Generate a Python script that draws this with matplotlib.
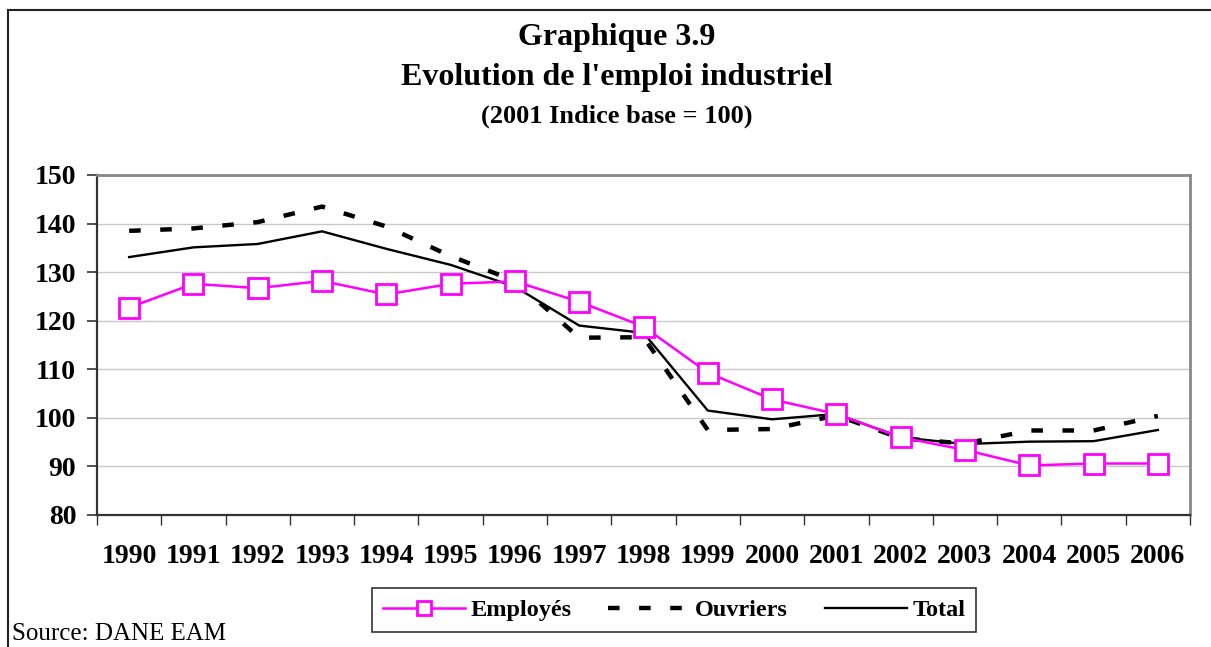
import matplotlib
matplotlib.use("Agg")
import matplotlib.pyplot as plt
from matplotlib.lines import Line2D

years = ["1990", "1991", "1992", "1993", "1994", "1995", "1996", "1997", "1998",
         "1999", "2000", "2001", "2002", "2003", "2004", "2005", "2006"]
employes = [122.7, 127.6, 126.7, 128.2, 125.4, 127.6, 128.1, 123.9, 118.8,
            109.3, 103.8, 100.8, 96.0, 93.4, 90.2, 90.6, 90.6]
ouvriers = [138.5, 139.0, 140.3, 143.5, 139.4, 133.3, 128.2, 116.5, 116.6,
            97.5, 97.7, 100.5, 95.8, 94.7, 97.4, 97.4, 100.4]
total = [133.1, 135.1, 135.8, 138.4, 134.8, 131.5, 127.0, 119.0, 117.5,
         101.5, 99.7, 100.8, 96.0, 94.6, 95.1, 95.2, 97.5]

plt.rcParams['font.family'] = ['Liberation Serif', 'DejaVu Serif']

fig = plt.figure(figsize=(12.11, 6.47), dpi=100)
ax = fig.add_axes([97/1211, 1-515/647, (1190-97)/1211, (515-175)/647])

x = list(range(len(years)))
l_emp, = ax.plot(x, employes, color='#FF00FF', lw=1.8, marker='s', markersize=15,
                 markerfacecolor='white', markeredgecolor='#FF00FF', markeredgewidth=2.0,
                 label='Employés', zorder=4)
l_ouv, = ax.plot(x, ouvriers, color='black', lw=3.2, label='Ouvriers', zorder=3)
l_ouv.set_dashes((2.6, 4.4))
l_tot, = ax.plot(x, total, color='black', lw=1.7, label='Total', zorder=3)

ax.set_xlim(-0.5, len(years) - 0.5)
ax.set_ylim(80, 150)
ax.set_yticks(range(80, 151, 10))
ax.yaxis.grid(True, color='#c8c8c8', lw=1)
ax.set_axisbelow(True)

ax.set_xticks(x)
ax.set_xticklabels(years)
ax.set_xticks([i - 0.5 for i in range(len(years) + 1)], minor=True)
ax.tick_params(axis='x', which='major', length=0, pad=21, labelsize=20)
ax.tick_params(axis='x', which='minor', length=7, width=1, color='#333333', direction='out')
ax.tick_params(axis='y', length=7, width=1.2, color='#333333', pad=8, labelsize=20)
for lab in ax.get_xticklabels() + ax.get_yticklabels():
    lab.set_fontweight('bold')

for s in ['top', 'right']:
    ax.spines[s].set_color('#888888')
    ax.spines[s].set_linewidth(2)
for s in ['left', 'bottom']:
    ax.spines[s].set_color('#333333')
    ax.spines[s].set_linewidth(1.6)

fig.text(0.5095, 1 - 37/647, "Graphique 3.9", ha='center', va='center',
         fontsize=23, fontweight='bold')
fig.text(0.5095, 1 - 78/647, "Evolution de l'emploi industriel", ha='center', va='center',
         fontsize=23, fontweight='bold')
fig.text(0.5095, 1 - 116/647, "(2001 Indice base = 100)", ha='center', va='center',
         fontsize=19, fontweight='bold')

leg = fig.legend(handles=[l_emp, l_ouv, l_tot], loc='center', bbox_to_anchor=(674/1211, 1 - 610/647),
                 ncol=3, frameon=True, fancybox=False, edgecolor='black', markerscale=0.65,
                 prop={'weight': 'bold', 'size': 17.5}, handlelength=3.4,
                 handletextpad=0.2, columnspacing=1.5, borderpad=0.45)
leg.get_frame().set_linewidth(1.2)

fig.text(12/1211, 1 - 634/647, "Source: DANE EAM", ha='left', va='center', fontsize=18)

# outer frame (left and top edges)
fig.add_artist(Line2D([8/1211, 8/1211], [0, 1 - 10/647], transform=fig.transFigure,
                      color='#222222', lw=1.5))
fig.add_artist(Line2D([8/1211, 1], [1 - 10/647, 1 - 10/647], transform=fig.transFigure,
                      color='#222222', lw=1.5))

fig.savefig('out.png', dpi=100)
